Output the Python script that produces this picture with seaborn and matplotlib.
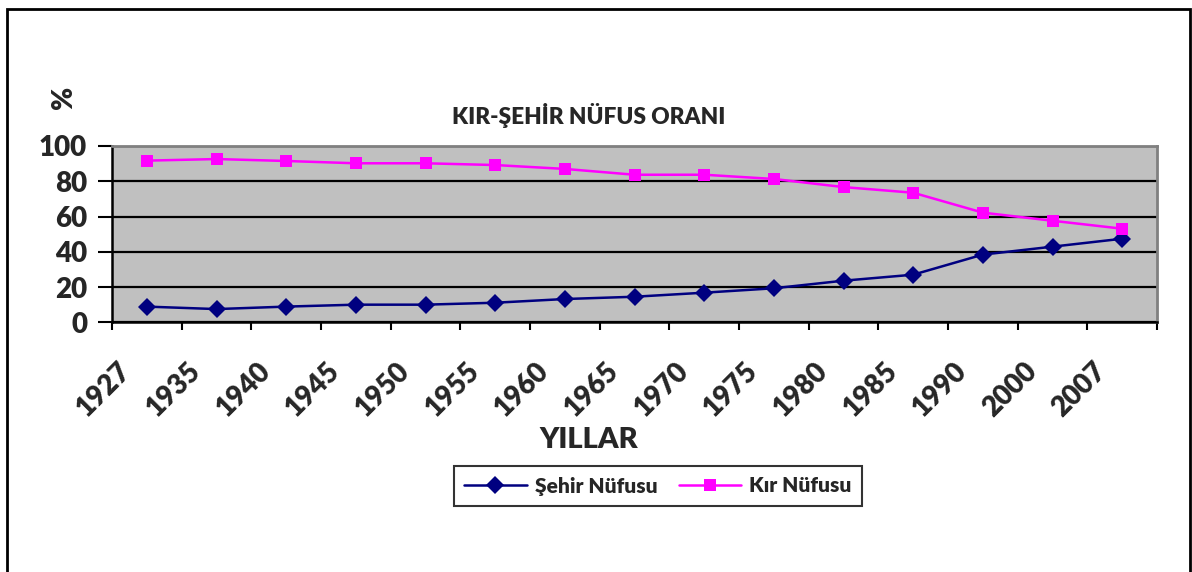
import matplotlib
matplotlib.use("Agg")
import matplotlib.pyplot as plt
import matplotlib.transforms as mtransforms
from matplotlib.patches import Rectangle
from matplotlib.lines import Line2D
import seaborn as sns
import pandas as pd
import numpy as np

years = ["1927", "1935", "1940", "1945", "1950", "1955", "1960", "1965",
         "1970", "1975", "1980", "1985", "1990", "2000", "2007"]
sehir = [8.9, 7.5, 8.9, 10.0, 10.0, 11.1, 13.2, 14.5, 16.8, 19.3, 23.6, 27.0, 38.4, 42.9, 47.4]
kir = [91.7, 92.6, 91.5, 90.2, 90.2, 89.2, 87.0, 83.7, 83.7, 81.3, 76.7, 73.5, 62.2, 57.6, 53.1]
series_names = ["Şehir Nüfusu", "Kır Nüfusu"]
title = "KIR-ŞEHİR NÜFUS ORANI"
xlabel = "YILLAR"
ylabel = "%"

sns.set_theme(style="white")
plt.rcParams['font.family'] = ['Lato', 'DejaVu Sans']
FW = 'heavy'

W, H = 1192, 572
fig = plt.figure(figsize=(W / 100, H / 100), dpi=100)
fig.patch.set_facecolor("white")

L, R, T, B = 112, 1157, 146, 322.3
ax = fig.add_axes([L / W, 1 - B / H, (R - L) / W, (B - T) / H])
ax.set_facecolor("#C0C0C0")

pos = np.arange(len(years))
df = pd.DataFrame({"pos": np.concatenate([pos, pos]),
                   "val": sehir + kir,
                   "seri": [series_names[0]] * len(years) + [series_names[1]] * len(years)})

colors = {series_names[0]: "#000080", series_names[1]: "#FF00FF"}
markers = {series_names[0]: "D", series_names[1]: "s"}
sizes = {series_names[0]: 9, series_names[1]: 9}
for name in series_names:
    sub = df[df["seri"] == name]
    sns.lineplot(data=sub, x="pos", y="val", ax=ax, color=colors[name],
                 marker=markers[name], markersize=sizes[name], markeredgewidth=0,
                 linewidth=1.8, legend=False, zorder=3)

ax.set_xlim(-0.5, len(years) - 0.5)
ax.set_ylim(0, 100)
ax.set_yticks([0, 20, 40, 60, 80, 100])
ax.yaxis.grid(True, color="black", linewidth=1.6, zorder=1)
ax.set_axisbelow(True)
ax.xaxis.grid(False)
ax.tick_params(axis="y", direction="out", length=10, width=1.5, color="black",
               labelsize=20, pad=8, left=True)
for lab in ax.get_yticklabels():
    lab.set_fontweight(FW)

ax.set_xticks(pos)
ax.set_xticklabels(years, rotation=45, ha="right", va="center",
                   rotation_mode="anchor", fontsize=20, fontweight=FW)
ax.tick_params(axis="x", length=0, pad=32)
ax.set_xticks(np.arange(-0.5, len(years), 1.0), minor=True)
ax.tick_params(axis="x", which="minor", direction="out", length=6, width=1.5,
               color="black", bottom=True)
offset = mtransforms.ScaledTranslation(-0.2, 0, fig.dpi_scale_trans)
for lab in ax.get_xticklabels():
    lab.set_transform(lab.get_transform() + offset)

ax.set_xlabel("")
ax.set_ylabel("")
for side in ["top", "right"]:
    ax.spines[side].set_color("#808080")
    ax.spines[side].set_linewidth(2)
for side in ["left", "bottom"]:
    ax.spines[side].set_color("black")
    ax.spines[side].set_linewidth(1.8)
ax.spines["bottom"].set_zorder(4)

fig.text(589 / W, 1 - 115 / H, title, ha="center", va="center",
         fontsize=16.3, fontweight=FW)
fig.text(589 / W, 1 - 440 / H, xlabel, ha="center", va="center",
         fontsize=21, fontweight=FW)
fig.text(64 / W, 1 - 97 / H, ylabel, ha="center", va="center",
         fontsize=20, fontweight=FW, rotation=90)

handles = [Line2D([0], [0], color=colors[n], marker=markers[n], markersize=9,
                  markeredgewidth=0, linewidth=1.8) for n in series_names]
leg = fig.legend(handles, series_names, loc="center", bbox_to_anchor=(658 / W, 1 - 486 / H),
                 ncol=2, frameon=True, fancybox=False,
                 prop={"weight": FW, "size": 15}, handlelength=3,
                 columnspacing=1.0, handletextpad=0.4, borderpad=0.5)
leg.get_frame().set_edgecolor("black")
leg.get_frame().set_linewidth(1.5)

fig.patches.append(Rectangle((7 / W, -0.05), (1190 - 7) / W, 1.05 - 9 / H,
                             transform=fig.transFigure, fill=False,
                             edgecolor="black", linewidth=2))

fig.savefig("out.png", dpi=100, facecolor="white")
